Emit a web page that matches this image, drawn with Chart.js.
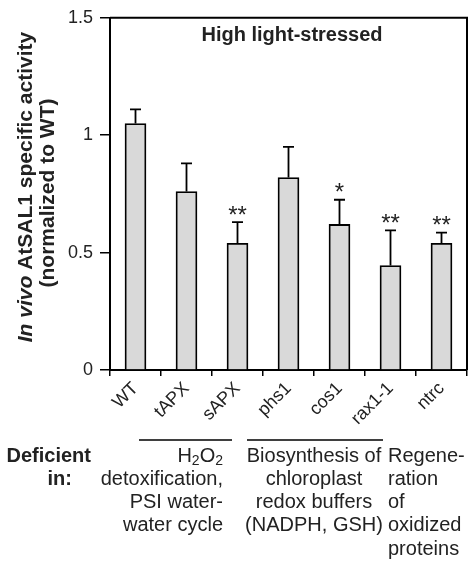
<!DOCTYPE html>
<html>
<head>
<meta charset="utf-8">
<script src="https://cdn.jsdelivr.net/npm/chart.js@4"></script>
<style>
  html, body { margin: 0; padding: 0; background: #fff; }
  #wrap { width: 473px; height: 563px; }
</style>
</head>
<body>
<div id="wrap"><canvas id="salChart" width="473" height="563"></canvas></div>
<script>
/* ---------- data ---------- */
const genotypes = ["WT", "tAPX", "sAPX", "phs1", "cos1", "rax1-1", "ntrc"];
const activity = [1.05, 0.76, 0.54, 0.82, 0.62, 0.445, 0.54];
const errorUp = [0.06, 0.12, 0.09, 0.13, 0.105, 0.15, 0.045];
const significance = ["", "", "**", "", "*", "**", "**"];
const yTicks = [0, 0.5, 1, 1.5];

const FONT = "'Liberation Sans', Arial, Helvetica, sans-serif";

/* ---------- extra drawing: frame, error bars, stars, annotations ---------- */
const figureExtras = {
    id: "figureExtras",
    afterDatasetsDraw(chart) {
        const { ctx, chartArea: area, scales } = chart;
        const y = scales.y;
        const meta = chart.getDatasetMeta(0);

        ctx.save();
        // top and right frame
        ctx.strokeStyle = "#000";
        ctx.lineWidth = 2;
        ctx.beginPath();
        ctx.moveTo(area.left, area.top);
        ctx.lineTo(area.right, area.top);
        ctx.lineTo(area.right, area.bottom);
        ctx.stroke();

        // error bars (upper only) and significance stars
        ctx.lineWidth = 1.8;
        meta.data.forEach((bar, i) => {
            const yTop = y.getPixelForValue(activity[i]);
            const yErr = y.getPixelForValue(activity[i] + errorUp[i]);
            ctx.beginPath();
            ctx.moveTo(bar.x, yTop);
            ctx.lineTo(bar.x, yErr);
            ctx.moveTo(bar.x - 5.5, yErr);
            ctx.lineTo(bar.x + 5.5, yErr);
            ctx.stroke();

            if (significance[i]) {
                ctx.fillStyle = "#222";
                ctx.font = `24px ${FONT}`;
                ctx.textAlign = "center";
                ctx.textBaseline = "middle";
                ctx.fillText(significance[i], bar.x, yErr - 6);
            }
        });
        ctx.restore();
    },
    afterDraw(chart) {
        const { ctx, chartArea: area } = chart;
        ctx.save();
        ctx.fillStyle = "#222";

        // panel title
        ctx.font = `bold 20px ${FONT}`;
        ctx.textAlign = "center";
        ctx.textBaseline = "middle";
        ctx.fillText("High light-stressed", 292, 35);

        // y axis title (rotated, two lines, "In vivo" in italics)
        const cy = 187;
        ctx.translate(26, cy);
        ctx.rotate(-Math.PI / 2);
        const italicPart = "In vivo";
        const restPart = " AtSAL1 specific activity";
        ctx.font = `italic bold 21px ${FONT}`;
        const w1 = ctx.measureText(italicPart).width;
        ctx.font = `bold 21px ${FONT}`;
        const w2 = ctx.measureText(restPart).width;
        ctx.textAlign = "left";
        ctx.font = `italic bold 21px ${FONT}`;
        ctx.fillText(italicPart, -(w1 + w2) / 2, 0);
        ctx.font = `bold 21px ${FONT}`;
        ctx.fillText(restPart, -(w1 + w2) / 2 + w1, 0);
        ctx.textAlign = "center";
        ctx.fillText("(normalized to WT)", -6, 22);
        ctx.setTransform(1, 0, 0, 1, 0, 0);

        // group brackets
        ctx.strokeStyle = "#000";
        ctx.lineWidth = 1.3;
        ctx.beginPath();
        ctx.moveTo(139, 440); ctx.lineTo(232, 440);
        ctx.moveTo(247, 440); ctx.lineTo(383, 440);
        ctx.stroke();

        const rows = [456, 479, 502, 525, 549];

        // "Deficient in:"
        ctx.font = `bold 20px ${FONT}`;
        ctx.textAlign = "right";
        ctx.fillText("Deficient", 91, rows[0]);
        ctx.fillText("in:", 72, rows[1]);

        // H2O2 with subscripts, right aligned
        ctx.textAlign = "left";
        const big = `20px ${FONT}`, small = `14px ${FONT}`;
        const parts = [["H", big, 0], ["2", small, 5], ["O", big, 0], ["2", small, 5]];
        let total = 0;
        parts.forEach(p => { ctx.font = p[1]; total += ctx.measureText(p[0]).width; });
        let px = 223 - total;
        parts.forEach(p => {
            ctx.font = p[1];
            ctx.fillText(p[0], px, rows[0] + p[2]);
            px += ctx.measureText(p[0]).width;
        });

        ctx.font = big;
        ctx.textAlign = "right";
        ["detoxification,", "PSI water-", "water cycle"].forEach((t, k) => ctx.fillText(t, 223, rows[k + 1]));

        ctx.textAlign = "center";
        ["Biosynthesis of", "chloroplast", "redox buffers", "(NADPH, GSH)"].forEach((t, k) => ctx.fillText(t, 314, rows[k]));

        ctx.textAlign = "left";
        ["Regene-", "ration", "of", "oxidized", "proteins"].forEach((t, k) => ctx.fillText(t, 388, rows[k]));

        ctx.restore();
    }
};

new Chart(document.getElementById("salChart"), {
    type: "bar",
    data: {
        labels: genotypes,
        datasets: [{
            data: activity,
            backgroundColor: "#d9d9d9",
            borderColor: "#000",
            borderWidth: 1.8,
            borderSkipped: "bottom",
            barThickness: 21
        }]
    },
    options: {
        responsive: false,
        animation: false,
        layout: { padding: { left: 0, top: 14, right: 6, bottom: 0 } },
        plugins: {
            legend: { display: false },
            tooltip: { enabled: false }
        },
        scales: {
            x: {
                afterFit: s => { s.height = 193; },
                border: { color: "#000", width: 2 },
                grid: {
                    offset: true,
                    drawOnChartArea: false,
                    drawTicks: true,
                    tickLength: 6,
                    color: "#000",
                    lineWidth: 1.5
                },
                ticks: {
                    color: "#222",
                    font: { family: FONT, size: 18 },
                    minRotation: 45,
                    maxRotation: 45,
                    padding: 2,
                    autoSkip: false
                }
            },
            y: {
                min: 0,
                max: 1.5,
                afterFit: s => { s.width = 110; },
                afterBuildTicks: s => { s.ticks = yTicks.map(v => ({ value: v })); },
                border: { color: "#000", width: 2 },
                grid: {
                    drawOnChartArea: false,
                    drawTicks: true,
                    tickLength: 10,
                    color: "#000",
                    lineWidth: 1.5
                },
                ticks: {
                    color: "#222",
                    font: { family: FONT, size: 18 },
                    padding: 7,
                    callback: v => String(v)
                }
            }
        }
    },
    plugins: [figureExtras]
});
</script>
</body>
</html>
